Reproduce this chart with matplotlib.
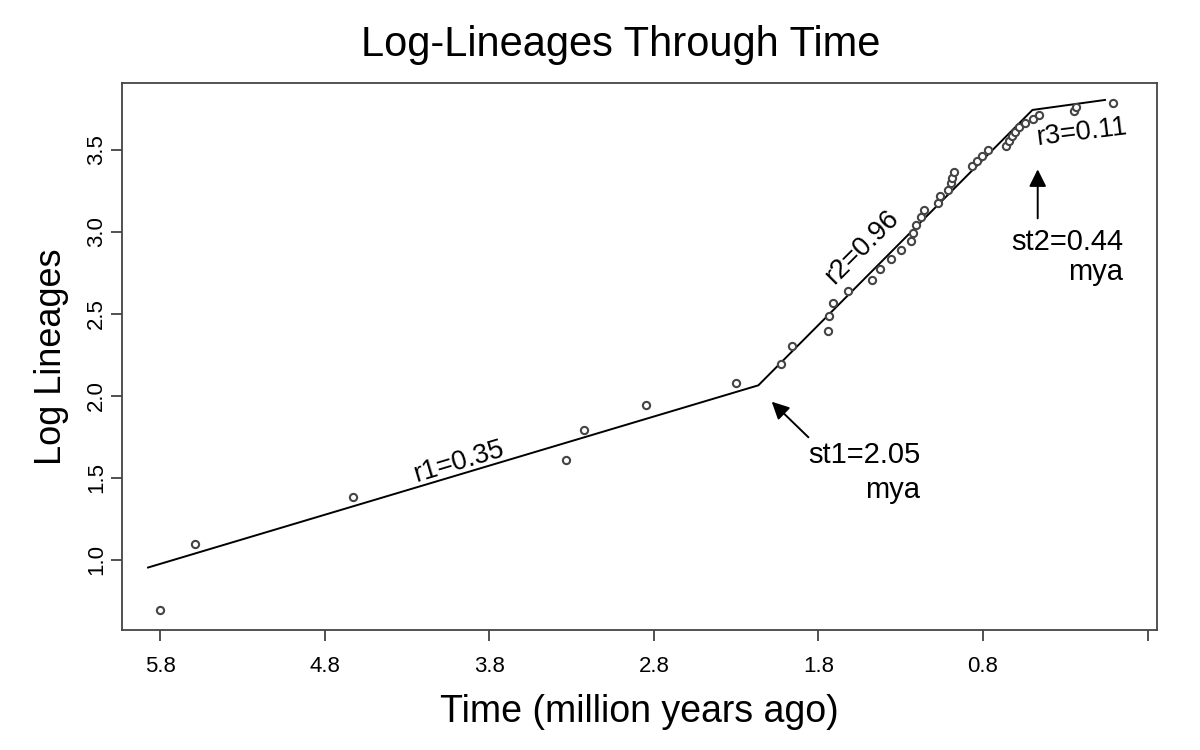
import matplotlib
matplotlib.use('Agg')
import matplotlib.pyplot as plt

# Branching times (million years ago) and log of lineage count at each
branch_times = [5.800, 5.587, 4.627, 3.333, 3.224, 2.847, 2.303, 2.027, 1.960,
                1.740, 1.736, 1.709, 1.618, 1.476, 1.426, 1.358, 1.298, 1.237,
                1.223, 1.209, 1.175, 1.157, 1.075, 1.059, 1.013, 0.996, 0.987,
                0.976, 0.869, 0.835, 0.804, 0.770, 0.662, 0.642, 0.624, 0.606,
                0.579, 0.547, 0.496, 0.458, 0.245, 0.235, 0.008]
log_lineages = [0.693, 1.099, 1.386, 1.609, 1.792, 1.946, 2.079, 2.197, 2.303,
                2.398, 2.485, 2.565, 2.639, 2.708, 2.773, 2.833, 2.890, 2.944,
                2.996, 3.045, 3.091, 3.135, 3.178, 3.219, 3.258, 3.296, 3.332,
                3.367, 3.401, 3.434, 3.466, 3.497, 3.526, 3.555, 3.584, 3.611,
                3.638, 3.664, 3.689, 3.714, 3.738, 3.761, 3.784]

# Piecewise linear fit (three rates, two shift times)
fit_times = [5.873, 2.165, 0.500, 0.059]
fit_values = [0.954, 2.065, 3.744, 3.805]

x_ticks = [5.8, 4.8, 3.8, 2.8, 1.8, 0.8, -0.2]
x_tick_labels = ["5.8", "4.8", "3.8", "2.8", "1.8", "0.8", ""]
y_ticks = [1.0, 1.5, 2.0, 2.5, 3.0, 3.5]
y_tick_labels = ["1.0", "1.5", "2.0", "2.5", "3.0", "3.5"]

FONT = ['Liberation Sans', 'DejaVu Sans']
plt.rcParams['font.family'] = FONT

fig = plt.figure(figsize=(12, 7.5), dpi=100)
ax = fig.add_axes([0.1017, 0.16, 0.8625, 0.7297])

ax.plot(branch_times, log_lineages, linestyle='none', marker='o',
        markersize=5.2, markerfacecolor='white', markeredgecolor='#444444',
        markeredgewidth=1.5, zorder=3)
ax.plot(fit_times, fit_values, color='black', linewidth=1.4, zorder=2)

ax.set_xlim(6.031, -0.257)
ax.set_ylim(0.573, 3.910)

ax.set_xticks(x_ticks)
ax.set_xticklabels(x_tick_labels, fontsize=16)
ax.set_yticks(y_ticks)
ax.set_yticklabels(y_tick_labels, fontsize=16, rotation=90, va='center')
ax.tick_params(axis='both', direction='out', length=8, width=1.2,
               color='#333333')
ax.tick_params(axis='x', pad=11)
ax.tick_params(axis='y', pad=3)
for s in ax.spines.values():
    s.set_color('#444444')
    s.set_linewidth(1.3)

fig.text(0.517, 1 - 45 / 750, "Log-Lineages Through Time", fontsize=30,
         ha='center', va='center')
ax.set_xlabel("Time (million years ago)", fontsize=27, labelpad=12)
ax.set_ylabel("Log Lineages", fontsize=26, labelpad=12)

# Rate labels
ax.text(3.983, 1.598, "r1=0.35", fontsize=19.5, rotation=16.6,
        ha='center', va='center', rotation_mode='anchor')
ax.text(1.535, 2.909, "r2=0.96", fontsize=19.5, rotation=45,
        ha='center', va='center', rotation_mode='anchor')
ax.text(0.199, 3.604, "r3=0.11", fontsize=19.5, rotation=7,
        ha='center', va='center', rotation_mode='anchor')

# Shift-time labels and arrows
ax.text(1.183, 1.640, "st1=2.05", fontsize=21, ha='right', va='center')
ax.text(1.183, 1.427, "mya", fontsize=21, ha='right', va='center')
ax.annotate("", xy=(2.084, 1.965), xytext=(1.861, 1.748),
            arrowprops=dict(arrowstyle='-|>', color='black', lw=1.4,
                            mutation_scale=26, shrinkA=0, shrinkB=0))

ax.text(-0.050, 2.939, "st2=0.44", fontsize=21, ha='right', va='center')
ax.text(-0.050, 2.756, "mya", fontsize=21, ha='right', va='center')
ax.annotate("", xy=(0.468, 3.382), xytext=(0.468, 3.083),
            arrowprops=dict(arrowstyle='-|>', color='black', lw=1.4,
                            mutation_scale=26, shrinkA=0, shrinkB=0))

fig.savefig("out.png", dpi=100)
